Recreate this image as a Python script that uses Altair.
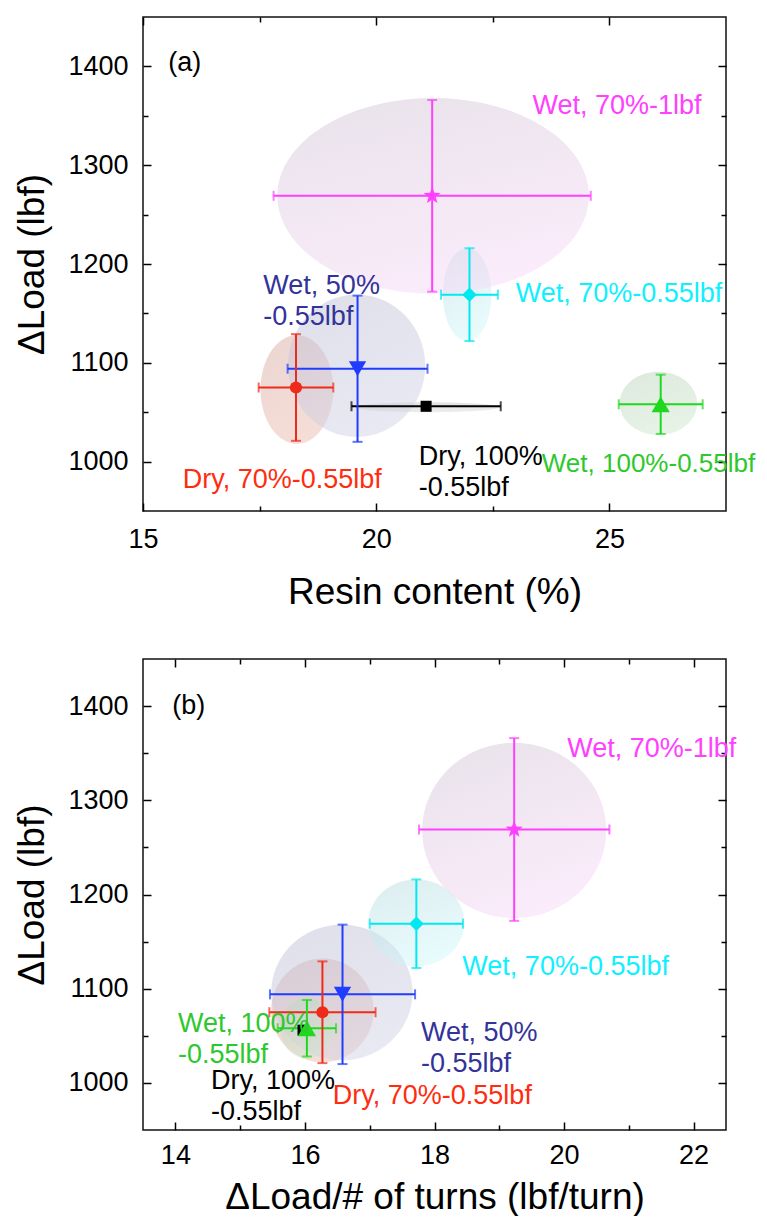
import math
import numpy as np
import pandas as pd
import altair as alt

# ---------------- data ----------------
series = ["Dry, 100%", "Dry, 70%", "Wet, 50%", "Wet, 70%-0.55lbf", "Wet, 70%-1lbf", "Wet, 100%"]
delta_load = [1056, 1075, 1094, 1169, 1269, 1058]
delta_load_err = [4, 54, 74, 47, 97, 30]
resin_content = [21.07, 18.28, 19.60, 22.00, 21.20, 26.10]
resin_content_err = [1.60, 0.80, 1.50, 0.61, 3.40, 0.90]
load_per_turn = [15.97, 16.27, 16.58, 17.72, 19.23, 16.03]
load_per_turn_err = [0.05, 0.82, 1.12, 0.72, 1.47, 0.45]

# shaded ellipses: centre and semi-axes (data units)
ellipse_a_x = [21.10, 18.30, 19.58, 21.95, 21.22, 26.05]
ellipse_a_y = [1055, 1073, 1097, 1169, 1269, 1059]
ellipse_a_rx = [1.55, 0.78, 1.47, 0.52, 3.34, 0.83]
ellipse_a_ry = [5, 55, 72, 47, 99, 32]
ellipse_b_x = [15.97, 16.27, 16.57, 17.72, 19.23, 16.03]
ellipse_b_y = [1056, 1077, 1096, 1170, 1268, 1058]
ellipse_b_rx = [0.05, 0.79, 1.09, 0.74, 1.42, 0.41]
ellipse_b_ry = [3, 55, 72, 46, 93, 32]

# annotations (left edge, centre of first line)
label_a_text = ["Dry, 100%\n-0.55lbf", "Dry, 70%-0.55lbf", "Wet, 50%\n-0.55lbf",
                "Wet, 70%-0.55lbf", "Wet, 70%-1lbf", "Wet, 100%-0.55lbf"]
label_a_x = [20.91, 15.85, 17.58, 22.99, 23.35, 23.55]
label_a_y = [1005, 981, 1178, 1170, 1360, 998]
label_b_text = ["Dry, 100%\n-0.55lbf", "Dry, 70%-0.55lbf", "Wet, 50%\n-0.55lbf",
                "Wet, 70%-0.55lbf", "Wet, 70%-1lbf", "Wet, 100%\n-0.55lbf"]
label_b_x = [14.55, 16.43, 17.79, 18.43, 20.05, 14.04]
label_b_y = [1002, 986, 1053, 1123, 1354, 1063]

y_domain = [950, 1450]
y_major = [1000, 1100, 1200, 1300, 1400]
y_minor = [1050, 1150, 1250, 1350]
xa_domain = [15, 27.5]
xa_major = [15, 20, 25]
xa_minor = [17.5, 22.5]
xb_domain = [13.5, 22.5]
xb_major = [14, 16, 18, 20, 22]
xb_minor = [15, 17, 19, 21]

# ---------------- styles ----------------
FONT = "Liberation Sans"
marker_colors = ["#000000", "#ee2a1a", "#1f3cff", "#00e8f0", "#ff40ff", "#1fd81f"]
text_colors = ["#000000", "#ff2d0f", "#333399", "#10f0ff", "#ff40ff", "#2ec82e"]
ellipse_colors = [("#c4c4c4", "#dadada"), ("#d9ada5", "#ebbdaf"), ("#c1c1d5", "#d3d3e7"),
                  ("#bddde1", "#d1f7fb"), ("#d3c7d7", "#f7d9f7"), ("#bdd5bd", "#cfe7cf")]
label_a_font = [27, 27, 27, 27, 27, 26]
label_b_font = [27, 27, 27, 27, 27, 27]

star_pts = []
for k in range(10):
    r = 1.0 if k % 2 == 0 else 0.42
    ang = -math.pi / 2 + k * math.pi / 5
    star_pts.append(f"{r * math.cos(ang):.3f},{r * math.sin(ang):.3f}")
STAR = "M" + " L".join(star_pts) + " Z"
shapes = ["square", "circle", "triangle-down", "diamond", STAR, "triangle-up"]
sizes = [121, 150, 300, 210, 320, 330]


def axis(orient, values, size, labels=False, title=None, title_pad=0, label_pad=15):
    kw = dict(orient=orient, values=values, tickSize=size, offset=-size, domain=False,
              grid=False, labels=labels, ticks=True, tickColor="black", tickWidth=1.5,
              title=title)
    if labels:
        kw.update(format="d", labelFont=FONT, labelFontSize=27, labelColor="black",
                  labelPadding=label_pad, labelFlush=False, labelOverlap=False)
    if title:
        kw.update(titleFont=FONT, titleFontSize=37, titleFontWeight="normal",
                  titleColor="black", titlePadding=title_pad)
    return alt.Axis(**kw)


def panel(xvals, xerrs, ex, ey, erx, ery, lab_text, lab_x, lab_y, lab_font, tag, tag_x, tag_y,
          xdom, xmajor, xminor, xtitle, height, xlab_pad, xtitle_pad):
    xs = alt.Scale(domain=xdom, nice=False, zero=False)
    ys = alt.Scale(domain=y_domain, nice=False, zero=False)
    layers = []
    # shaded ellipses
    t = np.linspace(0, np.pi, 91)
    for i in range(len(series)):
        edf = pd.DataFrame({
            "x": ex[i] - erx[i] * np.cos(t),
            "ya": ey[i] + ery[i] * np.sin(t),
            "yb": ey[i] - ery[i] * np.sin(t),
        })
        top, bot = ellipse_colors[i]
        grad = {"gradient": "linear", "x1": 0.2, "y1": 0, "x2": 0.6, "y2": 1,
                "stops": [{"offset": 0, "color": top}, {"offset": 1, "color": bot}]}
        layers.append(
            alt.Chart(edf).mark_area(orient="vertical", fillOpacity=0.5, color=grad)
            .encode(x=alt.X("x:Q", scale=xs, axis=None),
                    y=alt.Y("ya:Q", scale=ys, axis=None, stack=None),
                    y2="yb:Q"))

    d = pd.DataFrame({"series": series, "x": xvals, "y": delta_load,
                      "xerr": xerrs, "yerr": delta_load_err})
    d["xlo"] = d["x"] - d["xerr"]
    d["xhi"] = d["x"] + d["xerr"]
    d["ylo"] = d["y"] - d["yerr"]
    d["yhi"] = d["y"] + d["yerr"]
    col = alt.Color("series:N", scale=alt.Scale(domain=series, range=marker_colors), legend=None)
    X = lambda f: alt.X(f, scale=xs, axis=None)
    Y = lambda f: alt.Y(f, scale=ys, axis=None)

    base = alt.Chart(d)
    layers.append(base.mark_rule(strokeWidth=2).encode(x=X("xlo:Q"), x2="xhi:Q", y=Y("y:Q"), color=col))
    layers.append(base.mark_rule(strokeWidth=2).encode(x=X("x:Q"), y=Y("ylo:Q"), y2="yhi:Q", color=col))
    layers.append(base.transform_fold(["xlo", "xhi"], as_=["end", "xv"])
                  .mark_tick(orient="vertical", size=10, thickness=2)
                  .encode(x=X("xv:Q"), y=Y("y:Q"), color=col))
    layers.append(base.transform_fold(["ylo", "yhi"], as_=["end", "yv"])
                  .mark_tick(orient="horizontal", size=10, thickness=2)
                  .encode(x=X("x:Q"), y=Y("yv:Q"), color=col))
    # markers
    for i in range(len(series)):
        pdf = d.iloc[[i]]
        layers.append(alt.Chart(pdf).mark_point(filled=True, opacity=1, shape=shapes[i],
                                                size=sizes[i], color=marker_colors[i])
                      .encode(x=X("x:Q"), y=Y("y:Q")))
    # labels
    for i in range(len(series)):
        tdf = pd.DataFrame({"x": [lab_x[i]], "y": [lab_y[i]], "t": [lab_text[i]]})
        layers.append(alt.Chart(tdf).mark_text(align="left", baseline="middle", font=FONT,
                                               fontSize=lab_font[i], color=text_colors[i],
                                               lineBreak="\n", lineHeight=31)
                      .encode(x=X("x:Q"), y=Y("y:Q"), text="t:N"))
    tagdf = pd.DataFrame({"x": [tag_x], "y": [tag_y], "t": [tag]})
    layers.append(alt.Chart(tagdf).mark_text(align="left", baseline="middle", font=FONT,
                                             fontSize=27, color="black")
                  .encode(x=X("x:Q"), y=Y("y:Q"), text="t:N"))

    # axes (inward ticks on all four sides)
    carriers = [
        (axis("bottom", xmajor, 8, labels=True, title=xtitle, title_pad=xtitle_pad,
              label_pad=xlab_pad),
         axis("left", y_major, 8, labels=True, title="ΔLoad (lbf)", title_pad=16)),
        (axis("bottom", xminor, 5), axis("left", y_minor, 5)),
        (axis("top", xmajor, 8), axis("right", y_major, 8)),
        (axis("top", xminor, 5), axis("right", y_minor, 5)),
    ]
    for ax_x, ax_y in carriers:
        layers.append(base.mark_point(opacity=0).encode(
            x=alt.X("x:Q", scale=xs, axis=ax_x), y=alt.Y("y:Q", scale=ys, axis=ax_y)))

    return (alt.layer(*layers)
            .resolve_axis(x="independent", y="independent")
            .properties(width=583, height=height))


chart_a = panel(resin_content, resin_content_err, ellipse_a_x, ellipse_a_y, ellipse_a_rx,
                ellipse_a_ry, label_a_text, label_a_x, label_a_y, label_a_font, "(a)", 15.54, 1403,
                xa_domain, xa_major, xa_minor, "Resin content (%)", 494, 15, 22)
chart_b = panel(load_per_turn, load_per_turn_err, ellipse_b_x, ellipse_b_y, ellipse_b_rx,
                ellipse_b_ry, label_b_text, label_b_x, label_b_y, label_b_font, "(b)", 13.95, 1400,
                xb_domain, xb_major, xb_minor, "ΔLoad/# of turns (lbf/turn)", 471, 12, 11)

chart = (alt.vconcat(chart_a, chart_b, spacing=46)
         .properties(padding={"left": 5, "top": 7, "right": 0, "bottom": 0})
         .configure(font=FONT)
         .configure_view(stroke="#111111", strokeWidth=1.5))

chart.save("out.html", embed_options={"renderer": "svg", "actions": False})
